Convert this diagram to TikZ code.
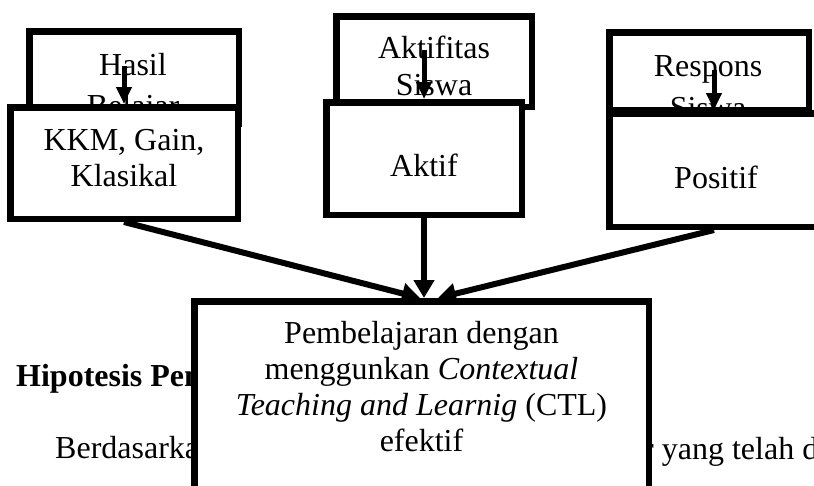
\documentclass[tikz,border=0pt]{standalone}
\usepackage{fontspec}
\setmainfont{Liberation Serif}
\usetikzlibrary{arrows.meta}
\tikzset{
  boxnode/.style={draw=black, fill=white, line width=6.5pt, inner sep=0pt, outer sep=auto, rectangle},
  txt/.style={inner sep=0pt, align=center, anchor=base},
  bigarrow/.style={line width=6pt, -{Triangle[length=18pt,width=20pt]}},
  smallarrow/.style={line width=5pt, -{Triangle[length=17pt,width=15pt]}}
}
\begin{document}
\begin{tikzpicture}[x=1pt,y=-1pt]
\useasboundingbox (0,0) rectangle (814,485);
\fill[white] (0,0) rectangle (814,485);
\clip (0,0) rectangle (814,485);
% back boxes
\node[boxnode, minimum width=209.5pt, minimum height=92.5pt] (hasil) at (134,77.5) {};
\node[txt, font=\fontsize{32}{41.5}\selectfont] (hasilt) at (133,116.5) {Hasil\\Belajar};
\node[boxnode, minimum width=195.5pt, minimum height=90.5pt] (aktifitas) at (434,61.5) {};
\node[txt, font=\fontsize{32}{37}\selectfont] (aktifitast) at (434,95.3) {Aktifitas\\Siswa};
\node[boxnode, minimum width=199.5pt, minimum height=77.5pt] (respons) at (709,71) {};
\node[txt, font=\fontsize{32}{42}\selectfont] (responst) at (708,118) {Respons\\Siswa};
% front boxes
\node[boxnode, minimum width=227.5pt, minimum height=111.5pt] (kkm) at (124,163) {};
\node[txt, font=\fontsize{32}{36}\selectfont] (kkmt) at (124,186) {KKM, Gain,\\Klasikal};
\node[boxnode, minimum width=195.5pt, minimum height=112.5pt] (aktif) at (424,158.5) {};
\node[txt, font=\fontsize{32}{36}\selectfont] (aktift) at (424,176.7) {Aktif};
\node[boxnode, minimum width=209.5pt, minimum height=113.5pt] (positif) at (714,170) {};
\node[txt, font=\fontsize{32}{36}\selectfont] (positift) at (716,188) {Positif};
% small arrows
\coordinate (s1) at (124,66);
\coordinate (s2) at (424,50);
\coordinate (s3) at (714,70);
\draw[smallarrow] (s1) -- (kkm.north);
\draw[smallarrow] (s2) -- (aktif.north);
\draw[smallarrow] (s3) -- (positif.north);
% body text behind the box
\node[inner sep=0pt, anchor=base west, font=\fontsize{32}{36}\selectfont\bfseries] (hip) at (16,386.7) {Hipotesis Pen};
\node[inner sep=0pt, anchor=base west, font=\fontsize{32}{36}\selectfont] (berd) at (55,458.3) {Berdasarka};
\node[inner sep=0pt, anchor=base west, font=\fontsize{32}{36}\selectfont] (yang) at (643,459) {r yang telah d};
% bottom box
\node[boxnode, minimum width=454.5pt, minimum height=235.5pt] (ctl) at (421.5,419) {};
\node[txt, font=\fontsize{32}{36.3}\selectfont] (ctlt) at (421.5,451.9) {Pembelajaran dengan\\menggunkan \textit{Contextual}\\\textit{Teaching and Learnig} (CTL)\\efektif};
% big arrows
\coordinate (e1) at (420,298);
\coordinate (e2) at (424,298);
\coordinate (e3) at (438,298);
\draw[bigarrow] (kkm.south) -- (e1);
\draw[bigarrow] (aktif.south) -- (e2);
\draw[bigarrow] (positif.south) -- (e3);
\end{tikzpicture}
\end{document}
